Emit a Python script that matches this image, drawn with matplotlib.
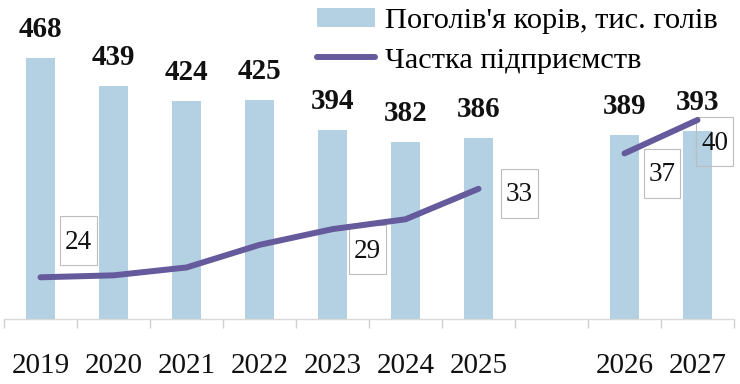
import matplotlib
matplotlib.use("Agg")
import matplotlib.pyplot as plt
from matplotlib.path import Path
import numpy as np

years = ["2019", "2020", "2021", "2022", "2023", "2024", "2025", "2026", "2027"]
cows = [468, 439, 424, 425, 394, 382, 386, 389, 393]
share = [24, 24.2, 25, 27.3, 28.9, 29.9, 33, 36.6, 40]
share_labels_idx = [0, 4, 6, 7, 8]

bar_name = "Поголів'я корів, тис. голів"
line_name = "Частка підприємств"

bar_color = "#b3d1e2"
line_color = "#655a9c"

plt.rcParams['font.family'] = ['Liberation Serif', 'DejaVu Serif']

fig = plt.figure(figsize=(7.4, 3.84), dpi=100)
W, H = 740, 384
ax = fig.add_axes([4 / W, (H - 319) / H, 730 / W, 319 / H])

# positions: gap slot between 2025 and 2026
pos = np.array([0, 1, 2, 3, 4, 5, 6, 8, 9])

bars = ax.bar(pos, cows, width=0.4, color=bar_color, label=bar_name, zorder=1)
ax.bar_label(bars, labels=[str(v) for v in cows], padding=11,
             fontsize=21, fontweight='bold', color='#111111')
ax.set_xlim(-0.5, 9.5)
ax.set_ylim(200, 527.8)

ax2 = ax.twinx()
ax2.set_ylim(19.76, 52.2)
ln, = ax2.plot(pos[:7], share[:7], color=line_color, lw=4.3, zorder=4,
               solid_capstyle='round', solid_joinstyle='round', label=line_name)
ax2.plot(pos[7:], share[7:], color=line_color, lw=4.3, zorder=4,
         solid_capstyle='round', solid_joinstyle='round')


def tall_box(x0, y0, width, height, mutation_size):
    px = 0.18 * mutation_size
    hh = 0.9 * mutation_size
    cy = y0 + height / 2 + 0.06 * mutation_size
    xa, xb = x0 - px, x0 + width + px
    ya, yb = cy - hh, cy + hh
    return Path([(xa, ya), (xb, ya), (xb, yb), (xa, yb), (xa, ya)], closed=True)


offsets_px = {0: (38, 35), 4: (35, -22), 6: (41, -6), 7: (37.5, -21.5), 8: (17, -23.5)}
for i in share_labels_idx:
    dx, dy = offsets_px[i]
    ax2.annotate(f"{share[i]:.0f}", (pos[i], share[i]),
                 xytext=(dx * 0.72, dy * 0.72), textcoords='offset points',
                 ha='center', va='center', fontsize=19.5, color='#111111',
                 bbox=dict(boxstyle=tall_box, fc='none', ec='#bdbdbd', lw=0.8),
                 zorder=2)

for a in (ax, ax2):
    for s in ('left', 'right', 'top', 'bottom'):
        a.spines[s].set_visible(False)
    a.set_yticks([])
ax.spines['bottom'].set_visible(True)
ax.spines['bottom'].set_color('#d9d9d9')
ax.spines['bottom'].set_linewidth(1.0)

ax.set_xticks(pos)
ax.set_xticklabels(years, fontsize=21, color='#111111')
ax.tick_params(axis='x', which='major', length=0, pad=24.5)
ax.set_xticks(np.arange(-0.5, 10, 1.0), minor=True)
ax.tick_params(axis='x', which='minor', length=6.5, color='#d0d0d0', width=1)

fig.legend(handles=[bars, ln], labels=[bar_name, line_name], loc='upper left',
           bbox_to_anchor=(317 / W, 1 - 8 / H), frameon=False, fontsize=21.9,
           borderpad=0, borderaxespad=0, handlelength=1.9, handleheight=0.6,
           handletextpad=0.33, labelspacing=0.42)

fig.savefig("out.png", dpi=100)
